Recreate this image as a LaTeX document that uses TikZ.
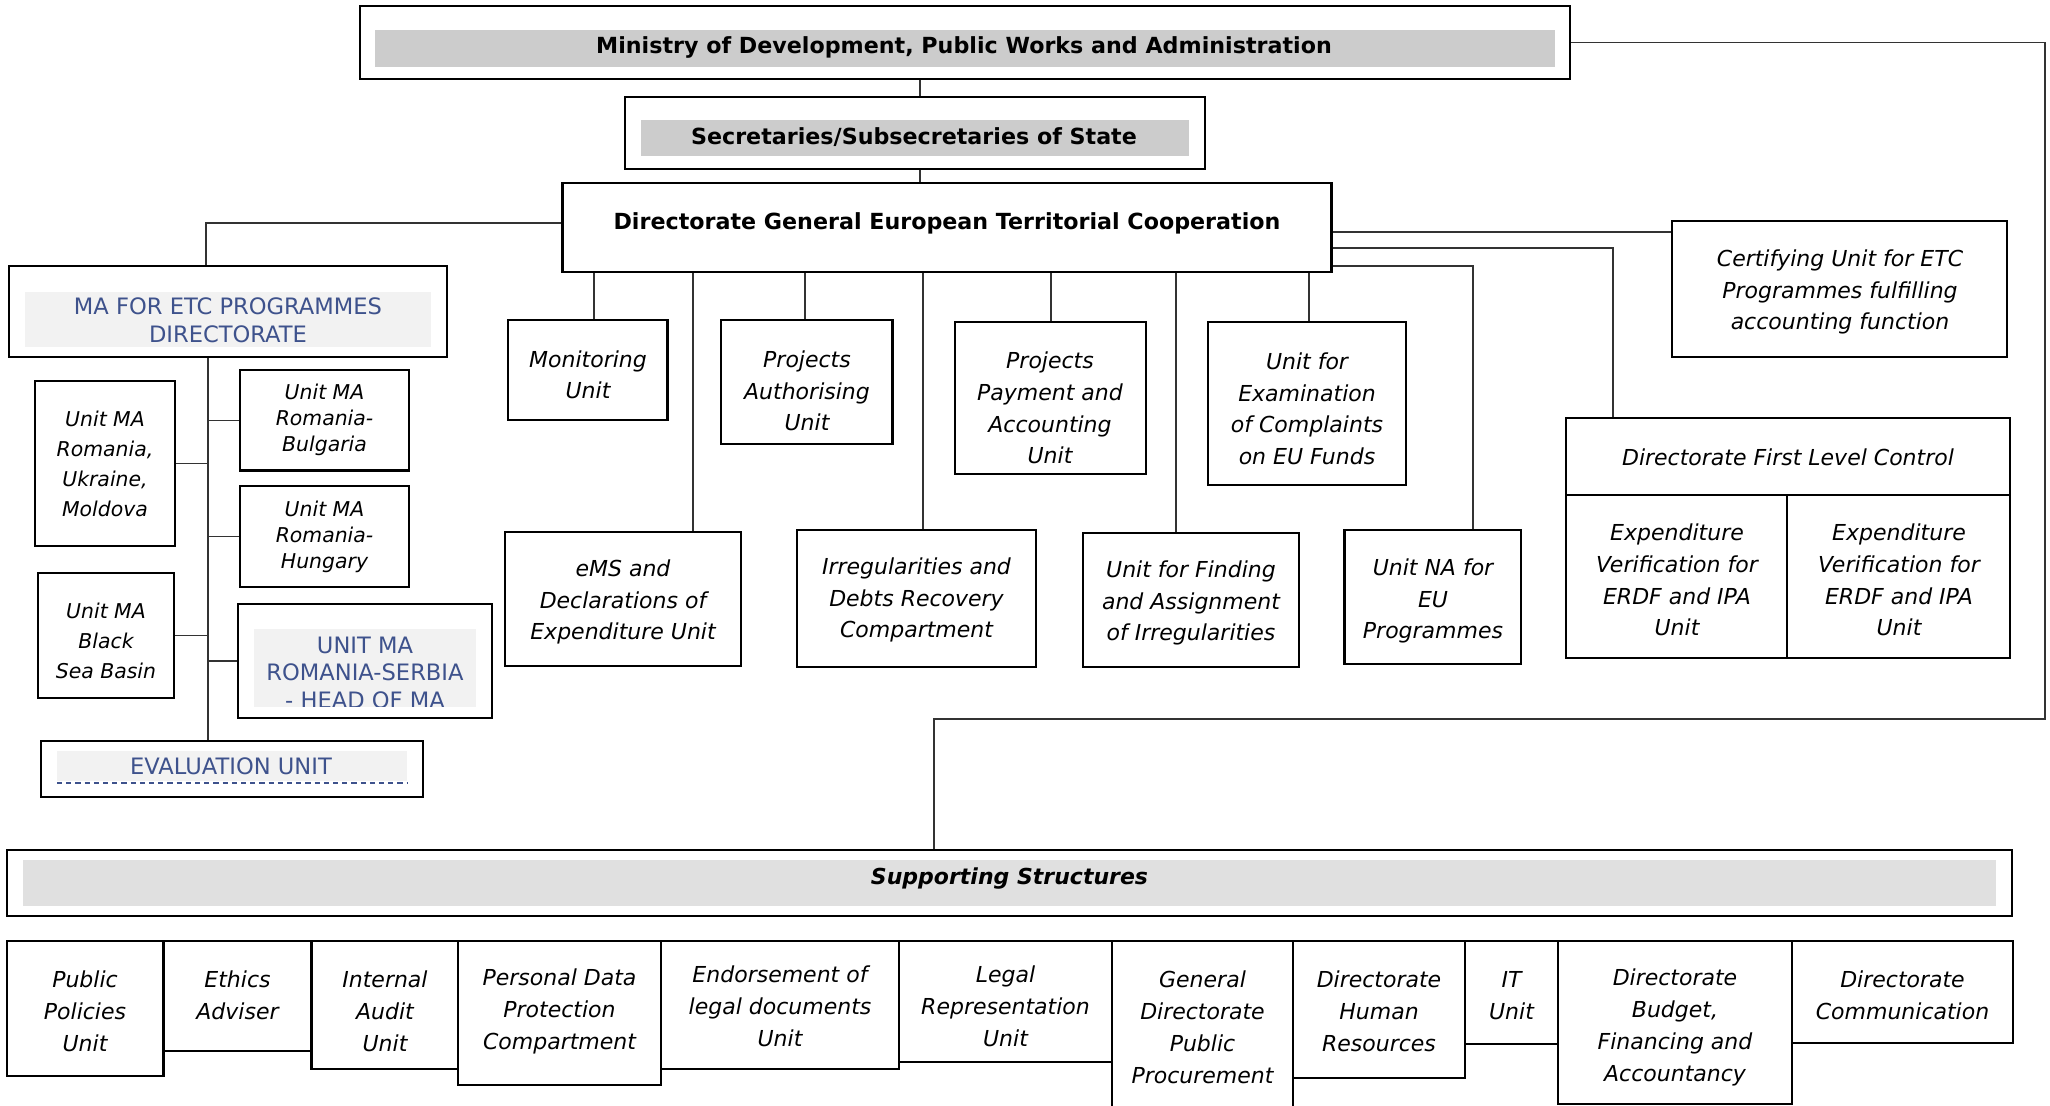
\documentclass[tikz,border=0pt]{standalone}
\usepackage{fontspec}
\setmainfont{DejaVu Sans}
\definecolor{maBlue}{RGB}{62,82,140}
\definecolor{bandA}{RGB}{204,204,204}
\definecolor{bandB}{RGB}{242,242,242}
\definecolor{bandC}{RGB}{224,224,224}
\tikzset{
  boxs/.style={draw=black, line width=1.1pt, inner sep=0pt, rectangle},
  conn/.style={draw=black!80, line width=0.7pt},
  ut/.style={inner sep=0pt, align=center, font=\itshape\fontsize{11}{15.8}\selectfont},
  utb/.style={inner sep=0pt, align=center, font=\itshape\fontsize{11}{16}\selectfont},
  uts/.style={inner sep=0pt, align=center, font=\itshape\fontsize{10.2}{14.9}\selectfont},
  utm/.style={inner sep=0pt, align=center, font=\itshape\fontsize{10.2}{13}\selectfont},
  hd/.style={inner sep=0pt, font=\bfseries\fontsize{11.1}{13}\selectfont},
  bt/.style={inner sep=0pt, align=center, text=maBlue, font=\fontsize{11.3}{14}\selectfont},
  btr/.style={inner sep=0pt, align=center, text=maBlue, font=\fontsize{11.3}{13.75}\selectfont},
  evdash/.style={draw=maBlue, line width=1.2pt, dash pattern=on 2.6pt off 2pt},
}
\newcommand{\bx}[6][]{%
  \node[boxs,#1,minimum width={(#4-#2)*0.5pt},minimum height={(#5-#3)*0.5pt}] (#6) at ({(#2+#4)/2},{(#3+#5)/2}) {};}
\begin{document}
\begin{tikzpicture}[x=0.5pt,y=-0.5pt]
\useasboundingbox (0,0) rectangle (2050,1106);
\clip (0,0) rectangle (2050,1106);

% ---- top hierarchy
\bx{360}{6}{1570}{79}{min}
\fill[bandA] (375,30) rectangle (1555,67);
\node[hd] (min-t) at (964,47) {Ministry of Development, Public Works and Administration};
\bx{625}{97}{1205}{169}{sec}
\fill[bandA] (641,120) rectangle (1189,156);
\node[hd] (sec-t) at (914,137) {Secretaries/Subsecretaries of State};
\bx{562.5}{183}{1331.5}{272}{dg}
\node[hd] (dg-t) at (947,223) {Directorate General European Territorial Cooperation};

\draw[conn] (min.south -| 920,0) -- (sec.north -| 920,0);
\draw[conn] (sec.south -| 920,0) -- (dg.north -| 920,0);

% ---- MA directorate (left)
\bx{9}{266}{447}{357}{ma}
\fill[bandB] (25,291.6) rectangle (431,346.6);
\node[bt] (ma-t) at (228,320.6) {MA FOR ETC PROGRAMMES\\DIRECTORATE};
\draw[conn] (dg.west |- 0,223) -| (ma.north -| 206,0);

\bx{35}{381}{175}{546}{rum}
\node[uts] (rum-t) at (105,464) {Unit MA\\Romania,\\Ukraine,\\Moldova};
\bx{240}{370}{409}{470.5}{rb}
\node[utm] (rb-t) at (324.5,420) {Unit MA\\Romania-\\Bulgaria};
\bx{240}{486}{409}{587}{rh}
\node[utm] (rh-t) at (324.5,537) {Unit MA\\Romania-\\Hungary};
\bx{38}{573}{174}{698}{bsb}
\node[uts] (bsb-t) at (106,640.6) {Unit MA\\Black\\Sea Basin};
\bx{238}{604}{492}{718}{rs}
\fill[bandB] (254,629) rectangle (476,706.5);
\begin{scope}
\clip (254,629) rectangle (476,706.5);
\node[btr] (rs-t) at (365,672.5) {UNIT MA\\ROMANIA-SERBIA\\- HEAD OF MA};
\end{scope}
\bx{41}{741}{423}{796.6}{ev}
\fill[bandB] (57,751) rectangle (407,781);
\node[bt] (ev-t) at (231,766) {EVALUATION UNIT};
\coordinate (evd1) at (57,783);
\coordinate (evd2) at (407,783);
\draw[evdash] (evd1) -- (evd2);

\coordinate (spine) at (208,357);
\draw[conn] (ma.south -| spine) -- (ev.north -| spine);
\draw[conn] (rum.east) -- (rum.east -| spine);
\draw[conn] (rb.west) -- (rb.west -| spine);
\draw[conn] (rh.west) -- (rh.west -| spine);
\draw[conn] (bsb.east) -- (bsb.east -| spine);
\draw[conn] (rs.west) -- (rs.west -| spine);

% ---- middle units
\bx{508}{320}{667.5}{420}{mon}
\node[ut] (mon-t) at (588,375) {Monitoring\\Unit};
\bx{721}{320}{892.5}{444}{pa}
\node[ut] (pa-t) at (807,391) {Projects\\Authorising\\Unit};
\bx{955}{322}{1145.6}{474}{ppa}
\node[ut] (ppa-t) at (1050,408) {Projects\\Payment and\\Accounting\\Unit};
\bx{1208}{322}{1406}{485}{exa}
\node[ut] (exa-t) at (1307,409) {Unit for\\Examination\\of Complaints\\on EU Funds};
\bx{505}{532}{741}{666}{ems}
\node[ut] (ems-t) at (623,602) {eMS and\\Declarations of\\Expenditure Unit};
\bx{797}{530}{1036}{667}{irr}
\node[ut] (irr-t) at (916.5,600) {Irregularities and\\Debts Recovery\\Compartment};
\bx{1083}{533}{1299}{667}{fin}
\node[ut] (fin-t) at (1191,603) {Unit for Finding\\and Assignment\\of Irregularities};
\bx{1344.5}{530}{1521}{664}{na}
\node[ut] (na-t) at (1433,601) {Unit NA for\\EU\\Programmes};

\draw[conn] (dg.south -| 594,0) -- (mon.north -| 594,0);
\draw[conn] (dg.south -| 693,0) -- (ems.north -| 693,0);
\draw[conn] (dg.south -| 805,0) -- (pa.north -| 805,0);
\draw[conn] (dg.south -| 923,0) -- (irr.north -| 923,0);
\draw[conn] (dg.south -| 1051,0) -- (ppa.north -| 1051,0);
\draw[conn] (dg.south -| 1176,0) -- (fin.north -| 1176,0);
\draw[conn] (dg.south -| 1309,0) -- (exa.north -| 1309,0);

% ---- right side
\bx{1672}{221}{2007}{357}{cer}
\node[ut] (cer-t) at (1840,292) {Certifying Unit for ETC\\Programmes fulfilling\\accounting function};
\bx{1566}{418}{2010}{495}{dlc}
\node[ut] (dlc-t) at (1788,457) {Directorate First Level Control};
\bx{1566}{495}{1787}{658}{ev1}
\node[ut] (ev1-t) at (1677,580) {Expenditure\\Verification for\\ERDF and IPA\\Unit};
\bx{1787}{495}{2010}{658}{ev2}
\node[ut] (ev2-t) at (1899,580) {Expenditure\\Verification for\\ERDF and IPA\\Unit};

\draw[conn] (dg.east |- 0,232) -- (cer.west |- 0,232);
\draw[conn] (dg.east |- 0,248) -| (dlc.north -| 1613,0);
\draw[conn] (dg.east |- 0,266) -| (na.north -| 1473,0);

% ---- supporting structures
\bx{7}{850}{2012}{916}{sup}
\fill[bandC] (23,860) rectangle (1996,906);
\node[inner sep=0pt, font=\bfseries\itshape\fontsize{11}{13}\selectfont] (sup-t) at (1009.5,879) {Supporting Structures};
\coordinate (loopc) at (2045,719);
\draw[conn] (min.east) -| (loopc) -| (sup.north -| 934,0);

\bx{7}{941}{163.5}{1076}{b1}
\node[utb] (b1-t) at (85,1011) {Public\\Policies\\Unit};
\bx{163.5}{941}{311.5}{1051}{b2}
\node[utb] (b2-t) at (237.5,995.5) {Ethics\\Adviser};
\bx{311.5}{941}{458}{1069}{b3}
\node[utb] (b3-t) at (385,1011) {Internal\\Audit\\Unit};
\bx{458}{941}{661}{1085}{b4}
\node[utb] (b4-t) at (559.5,1011) {Personal Data\\Protection\\Compartment};
\bx{661}{941}{899}{1069}{b5}
\node[utb] (b5-t) at (780,1006) {Endorsement of\\legal documents\\Unit};
\bx{899}{941}{1112}{1062}{b6}
\node[utb] (b6-t) at (1005.5,1006) {Legal\\Representation\\Unit};
\bx{1112}{941}{1293}{1130}{b7}
\node[utb] (b7-t) at (1202.5,1027.5) {General\\Directorate\\Public\\Procurement};
\bx{1293}{941}{1465}{1078}{b8}
\node[utb] (b8-t) at (1379,1011) {Directorate\\Human\\Resources};
\bx{1465}{941}{1558}{1044}{b9}
\node[utb] (b9-t) at (1511.5,995.5) {IT\\Unit};
\bx{1558}{941}{1792}{1104}{b10}
\node[utb] (b10-t) at (1675,1027.5) {Directorate\\Budget,\\Financing and\\Accountancy};
\bx{1792}{941}{2013}{1043}{b11}
\node[utb] (b11-t) at (1902.5,995.5) {Directorate\\Communication};
\end{tikzpicture}
\end{document}
